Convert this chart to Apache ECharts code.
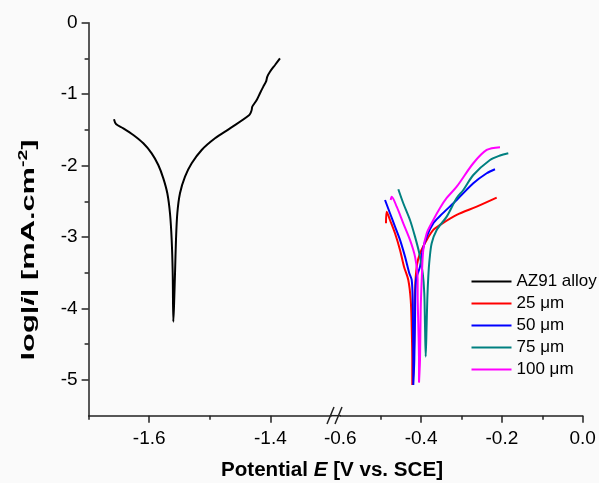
<!DOCTYPE html>
<html>
<head>
<meta charset="utf-8">
<script src="https://cdn.jsdelivr.net/npm/echarts@6/dist/echarts.min.js"></script>
<style>html,body{margin:0;padding:0;background:#fafafa;}#c{width:599px;height:483px;}</style>
</head>
<body>
<div id="c"></div>
<script>
// ---- data (E [V vs SCE], log|i|) ----
const seriesNames = ['AZ91 alloy', '25 \u03bcm', '50 \u03bcm', '75 \u03bcm', '100 \u03bcm'];
const seriesColors = ['#000000', '#ff0000', '#0000ff', '#008080', '#ff00ff'];

const az91 = [
  [-1.6581,-1.352],[-1.6548,-1.418],[-1.6427,-1.478],[-1.6262,-1.572],[-1.6097,-1.688],
  [-1.5959,-1.828],[-1.5850,-1.991],[-1.5767,-2.178],[-1.5701,-2.387],[-1.5657,-2.667],
  [-1.5629,-3.04],[-1.5612,-3.507],[-1.5602,-4.184],
  [-1.5591,-3.974],[-1.5574,-3.507],[-1.5558,-3.04],[-1.5536,-2.667],[-1.5492,-2.387],
  [-1.5409,-2.155],[-1.5299,-1.968],[-1.5134,-1.781],[-1.4914,-1.618],[-1.4667,-1.478],
  [-1.4348,-1.292],[-1.4309,-1.222],[-1.4299,-1.175],[-1.4226,-1.082],[-1.4172,-0.988],
  [-1.4117,-0.895],[-1.4073,-0.826],[-1.4051,-0.755],[-1.4007,-0.686],[-1.3924,-0.592],
  [-1.3842,-0.498]
];
const um25 = [
  [-0.4869,-2.807],[-0.4851,-2.644],[-0.4770,-2.761],[-0.4646,-2.947],[-0.4522,-3.18],
  [-0.4423,-3.414],[-0.4317,-3.60],[-0.4257,-3.88],[-0.4233,-4.254],[-0.4218,-4.72],
  [-0.4218,-5.07],
  [-0.4193,-4.906],[-0.4164,-4.30],[-0.4151,-3.74],[-0.4102,-3.39],[-0.4027,-3.227],
  [-0.3861,-3.04],[-0.3698,-2.90],[-0.3532,-2.83],[-0.3119,-2.69],[-0.2624,-2.575],
  [-0.2129,-2.449]
];
const um50 = [
  [-0.4893,-2.481],[-0.4770,-2.667],[-0.4646,-2.854],[-0.4522,-3.04],[-0.4398,-3.274],
  [-0.4292,-3.506],[-0.4233,-3.60],[-0.4208,-3.88],[-0.4200,-4.254],[-0.4193,-4.72],
  [-0.4193,-5.07],
  [-0.4168,-4.72],[-0.4151,-4.16],[-0.4126,-3.60],[-0.4027,-3.414],[-0.3960,-3.18],
  [-0.3861,-2.994],[-0.3698,-2.807],[-0.3532,-2.705],[-0.3119,-2.481],[-0.2708,-2.247],
  [-0.2376,-2.107],[-0.2171,-2.051]
];
const um75 = [
  [-0.4564,-2.331],[-0.4441,-2.527],[-0.4275,-2.761],[-0.4151,-2.994],[-0.4045,-3.227],
  [-0.3960,-3.506],[-0.3921,-3.786],[-0.3903,-4.254],[-0.3886,-4.673],
  [-0.3866,-4.30],[-0.3847,-3.88],[-0.3822,-3.554],[-0.3792,-3.32],[-0.3738,-3.087],
  [-0.3614,-2.90],[-0.3366,-2.714],[-0.3119,-2.453],[-0.2955,-2.341],[-0.2708,-2.131],
  [-0.2295,-1.921],[-0.2047,-1.858],[-0.1842,-1.827]
];
const um100 = [
  [-0.4752,-2.481],[-0.4728,-2.435],[-0.4604,-2.575],[-0.4441,-2.807],[-0.4275,-3.04],
  [-0.4151,-3.274],[-0.4085,-3.60],[-0.4085,-3.786],[-0.4068,-4.254],[-0.4052,-4.72],
  [-0.4052,-5.037],
  [-0.4027,-4.72],[-0.4010,-4.02],[-0.3985,-3.60],[-0.3946,-3.18],[-0.3861,-2.947],
  [-0.3698,-2.761],[-0.3532,-2.593],[-0.3366,-2.453],[-0.3119,-2.295],[-0.2708,-1.967],
  [-0.2376,-1.781],[-0.2047,-1.743]
];

// ---- ticks ----
const leftMajor = [-1.6, -1.4];
const leftMinor = [-1.7, -1.5];
const rightMajor = [-0.4, -0.2, 0.0];
const rightMinor = [-0.5, -0.3, -0.1];
const rightLabels = [-0.6, -0.4, -0.2, 0.0];
const yMajor = [0, -1, -2, -3, -4, -5];
const yMinor = [-0.5, -1.5, -2.5, -3.5, -4.5];

const FONT = '"Liberation Sans", Arial, sans-serif';
const AXC = '#222';
const TICKFS = 19;
const fmt = v => (Math.abs(v) < 1e-9 ? '0.0' : v.toFixed(1));

const chart = echarts.init(document.getElementById('c'), null, {renderer: 'canvas'});

const G_TOP = 22.7, G_H = 393;
const option = {
  backgroundColor: '#fafafa',
  animation: false,
  textStyle: {fontFamily: FONT},
  grid: [
    {left: 88.6, top: G_TOP, width: 242.4, height: G_H},
    {left: 340.3, top: G_TOP, width: 242.4, height: G_H}
  ],
  xAxis: [
    {gridIndex: 0, type: 'value', min: -1.7, max: -1.3, position: 'bottom', offset: 0,
     axisLine: {show: true, onZero: false, lineStyle: {color: AXC, width: 1.5}},
     axisTick: {show: true, customValues: leftMajor, length: 7, lineStyle: {color: AXC, width: 1.5}},
     axisLabel: {customValues: leftMajor, formatter: fmt, fontSize: TICKFS, color: '#000', margin: 14, fontFamily: FONT},
     splitLine: {show: false}},
    {gridIndex: 0, type: 'value', min: -1.7, max: -1.3, position: 'bottom', offset: 0,
     axisLine: {show: false, onZero: false},
     axisTick: {show: true, customValues: leftMinor, length: 4, lineStyle: {color: AXC, width: 1.5}},
     axisLabel: {show: false}, splitLine: {show: false}},
    {gridIndex: 1, type: 'value', min: -0.6, max: 0, position: 'bottom', offset: 0,
     axisLine: {show: true, onZero: false, lineStyle: {color: AXC, width: 1.5}},
     axisTick: {show: true, customValues: rightMajor, length: 7, lineStyle: {color: AXC, width: 1.5}},
     axisLabel: {customValues: rightLabels, formatter: fmt, fontSize: TICKFS, color: '#000', margin: 14, fontFamily: FONT},
     splitLine: {show: false}},
    {gridIndex: 1, type: 'value', min: -0.6, max: 0, position: 'bottom', offset: 0,
     axisLine: {show: false, onZero: false},
     axisTick: {show: true, customValues: rightMinor, length: 4, lineStyle: {color: AXC, width: 1.5}},
     axisLabel: {show: false}, splitLine: {show: false}}
  ],
  yAxis: [
    {gridIndex: 0, type: 'value', min: -5.5, max: 0, position: 'left', offset: 0,
     axisLine: {show: true, onZero: false, lineStyle: {color: AXC, width: 1.5}},
     axisTick: {show: true, customValues: yMajor, length: 7, lineStyle: {color: AXC, width: 1.5}},
     axisLabel: {customValues: yMajor, formatter: v => String(v), fontSize: TICKFS, color: '#000', margin: 11, fontFamily: FONT},
     splitLine: {show: false}},
    {gridIndex: 0, type: 'value', min: -5.5, max: 0, position: 'left', offset: 0,
     axisLine: {show: false, onZero: false},
     axisTick: {show: true, customValues: yMinor, length: 4, lineStyle: {color: AXC, width: 1.5}},
     axisLabel: {show: false}, splitLine: {show: false}},
    {gridIndex: 1, type: 'value', min: -5.5, max: 0, show: false}
  ],
  legend: {
    orient: 'vertical', left: 471.5, top: 273, padding: 0,
    itemWidth: 40, itemHeight: 2, itemGap: 5, icon: 'rect',
    textStyle: {fontSize: 17, color: '#000', fontFamily: FONT},
    data: seriesNames
  },
  series: [
    {name: seriesNames[0], data: az91, xAxisIndex: 0, yAxisIndex: 0},
    {name: seriesNames[1], data: um25, xAxisIndex: 2, yAxisIndex: 2},
    {name: seriesNames[2], data: um50, xAxisIndex: 2, yAxisIndex: 2},
    {name: seriesNames[3], data: um75, xAxisIndex: 2, yAxisIndex: 2},
    {name: seriesNames[4], data: um100, xAxisIndex: 2, yAxisIndex: 2}
  ].map((s, i) => Object.assign({
    type: 'line', showSymbol: false, symbol: 'none', smooth: 0.3,
    color: seriesColors[i],
    lineStyle: {color: seriesColors[i], width: 2}
  }, s)),
  graphic: [
    // axis break connector and marks
    {type: 'line', shape: {x1: 330, y1: 415.7, x2: 341, y2: 415.7}, style: {stroke: AXC, lineWidth: 1.5}, silent: true},
    {type: 'line', shape: {x1: 327, y1: 424, x2: 334, y2: 407}, style: {stroke: AXC, lineWidth: 1.5}, silent: true},
    {type: 'line', shape: {x1: 335, y1: 424, x2: 342, y2: 407}, style: {stroke: AXC, lineWidth: 1.5}, silent: true},
    // axis titles
    {type: 'text', x: 332, y: 470, scaleX: 1.03, silent: true,
     style: {text: 'Potential {i|E} [V vs. SCE]', align: 'center', verticalAlign: 'middle',
       font: 'bold 20px ' + FONT, fill: '#000',
       rich: {i: {fontStyle: 'italic', fontWeight: 'bold', fontSize: 20, fontFamily: FONT}}}},
    {type: 'text', x: 29, y: 250, rotation: Math.PI / 2, scaleX: 1.62, silent: true,
     style: {text: 'log|{i|i}| [mA.cm{sup|-2}]', align: 'center', verticalAlign: 'middle',
       font: 'bold 19px ' + FONT, fill: '#000',
       rich: {i: {fontStyle: 'italic', fontWeight: 'bold', fontSize: 19, fontFamily: FONT},
              sup: {fontWeight: 'bold', fontSize: 12, fontFamily: FONT, padding: [0, 0, 10, 0]}}}}
  ]
};
chart.setOption(option);
</script>
</body>
</html>
